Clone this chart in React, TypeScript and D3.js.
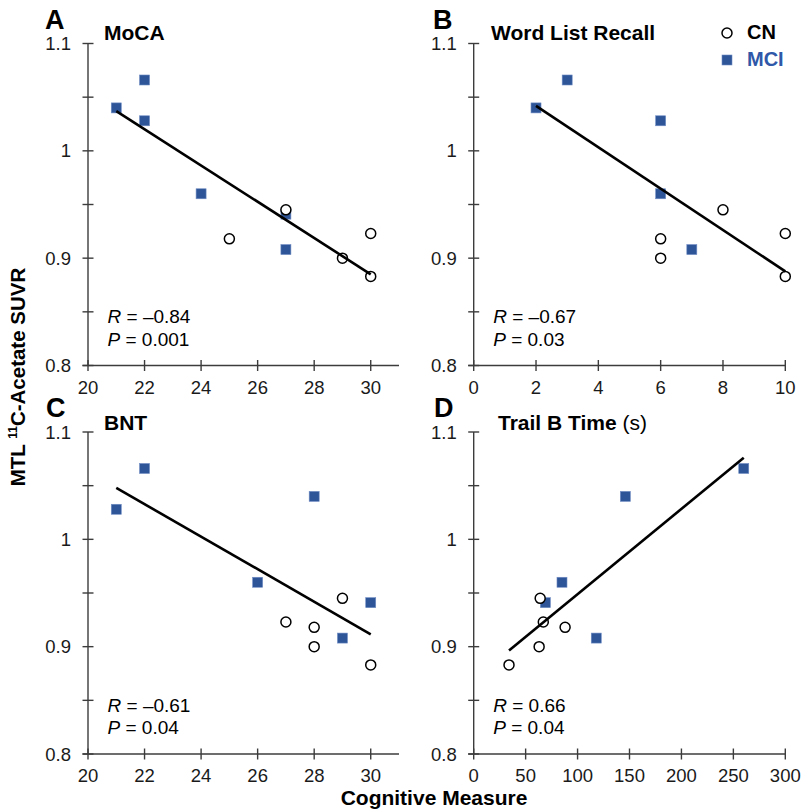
import React from "react";
import * as d3 from "d3";

// SUVR per subject (same subjects in every panel)
const suvrCN = [0.918, 0.945, 0.9, 0.923, 0.883];
const suvrMCI = [1.04, 1.066, 1.028, 0.96, 0.941, 0.908];

// Cognitive measures per subject (null = missing)
const mocaCN = [25, 27, 29, 30, 30];
const mocaMCI = [21, 22, 22, 24, 27, 27];
const wordCN = [6, 8, 6, 10, 10];
const wordMCI: (number | null)[] = [2, 3, 6, 6, null, 7];
const bntCN = [28, 29, 28, 27, 30];
const bntMCI = [28, 22, 21, 26, 30, 29];
const trailCN = [88, 64, 63, 67, 34];
const trailMCI: (number | null)[] = [146, 260, null, 85, 69, 118];

const panelLetters = ["A", "B", "C", "D"];
const panelTitles = ["MoCA", "Word List Recall", "BNT", "Trail B Time"];
const statR = ["\u20130.84", "\u20130.67", "\u20130.61", "0.66"];
const statP = ["0.001", "0.03", "0.04", "0.04"];

const xTicksMoca = [20, 22, 24, 26, 28, 30];
const xTicksWord = [0, 2, 4, 6, 8, 10];
const xTicksBnt = [20, 22, 24, 26, 28, 30];
const xTicksTrail = [0, 50, 100, 150, 200, 250, 300];
const yTicksMajor = [0.8, 0.9, 1.0, 1.1];
const yTickLabels = ["0.8", "0.9", "1", "1.1"];
const yTicksMinor = [0.85, 0.95, 1.05];

const FONT = "'Liberation Sans', Arial, Helvetica, sans-serif";
const AXIS = "#3c3c3c";
const BLUE = "#2E5597";
const BLUE_TXT = "#2F58A8";

type Panel = {
  letter: string;
  title: string;
  cnX: (number | null)[];
  mciX: (number | null)[];
  xDomain: [number, number];
  xRange: [number, number];
  xTicks: number[];
  yRange: [number, number];
  r: string;
  p: string;
  letterPos: [number, number];
  titlePos: [number, number];
};

const topY: [number, number] = [365.5, 43.5];
const botY: [number, number] = [754, 432];

const panels: Panel[] = [
  { letter: panelLetters[0], title: panelTitles[0], cnX: mocaCN, mciX: mocaMCI, xDomain: [20, 31], xRange: [88, 399], xTicks: xTicksMoca, yRange: topY, r: statR[0], p: statP[0], letterPos: [45, 29], titlePos: [104, 40] },
  { letter: panelLetters[1], title: panelTitles[1], cnX: wordCN, mciX: wordMCI, xDomain: [0, 10], xRange: [473.7, 785.3], xTicks: xTicksWord, yRange: topY, r: statR[1], p: statP[1], letterPos: [433, 29], titlePos: [491, 40] },
  { letter: panelLetters[2], title: panelTitles[2], cnX: bntCN, mciX: bntMCI, xDomain: [20, 31], xRange: [88, 399], xTicks: xTicksBnt, yRange: botY, r: statR[2], p: statP[2], letterPos: [46, 417], titlePos: [104, 430] },
  { letter: panelLetters[3], title: panelTitles[3], cnX: trailCN, mciX: trailMCI, xDomain: [0, 300], xRange: [473.7, 785.3], xTicks: xTicksTrail, yRange: botY, r: statR[3], p: statP[3], letterPos: [434, 417], titlePos: [498, 430] },
];

function PanelView({ pn }: { pn: Panel }) {
  const x = d3.scaleLinear().domain(pn.xDomain).range(pn.xRange);
  const y = d3.scaleLinear().domain([0.8, 1.1]).range(pn.yRange);
  const cn = pn.cnX
    .map((v, i) => (v == null ? null : { x: v, y: suvrCN[i] }))
    .filter((d): d is { x: number; y: number } => d !== null);
  const mci = pn.mciX
    .map((v, i) => (v == null ? null : { x: v, y: suvrMCI[i] }))
    .filter((d): d is { x: number; y: number } => d !== null);
  const all = [...cn, ...mci];
  const mx = d3.mean(all, (d) => d.x)!;
  const my = d3.mean(all, (d) => d.y)!;
  const sxy = d3.sum(all, (d) => (d.x - mx) * (d.y - my));
  const sxx = d3.sum(all, (d) => (d.x - mx) * (d.x - mx));
  const slope = sxy / sxx;
  const [x0, x1] = d3.extent(all, (d) => d.x) as [number, number];
  const fit = [x0, x1].map((xv) => ({ x: xv, y: my + slope * (xv - mx) }));
  const line = d3
    .line<{ x: number; y: number }>()
    .x((d) => x(d.x))
    .y((d) => y(d.y));
  const ax0 = pn.xRange[0];
  const ay0 = pn.yRange[0];
  const tk = 5.5;
  return (
    <g>
      {/* y axis */}
      <line x1={ax0} x2={ax0} y1={y(0.8)} y2={y(1.1)} stroke={AXIS} strokeWidth={1.4} />
      {[...yTicksMajor, ...yTicksMinor].map((t) => (
        <line key={"yt" + t} x1={ax0 - tk} x2={ax0 + tk} y1={y(t)} y2={y(t)} stroke={AXIS} strokeWidth={1.4} />
      ))}
      {yTicksMajor.map((t, i) => (
        <text key={"yl" + t} x={ax0 - 17} y={y(t) + 6.5} textAnchor="end" fontSize={18.5} fill="#1a1a1a">
          {yTickLabels[i]}
        </text>
      ))}
      {/* x axis */}
      <line x1={ax0 - tk} x2={pn.xRange[1]} y1={ay0} y2={ay0} stroke={AXIS} strokeWidth={1.4} />
      {pn.xTicks.map((t) => (
        <line key={"xt" + t} x1={x(t)} x2={x(t)} y1={ay0 - tk} y2={ay0 + tk} stroke={AXIS} strokeWidth={1.4} />
      ))}
      {pn.xTicks.map((t) => (
        <text key={"xl" + t} x={x(t)} y={ay0 + 28} textAnchor="middle" fontSize={18.5} fill="#1a1a1a">
          {t}
        </text>
      ))}
      {/* markers */}
      {mci.map((d, i) => (
        <rect key={"m" + i} x={x(d.x) - 5} y={y(d.y) - 5} width={10} height={10} fill={BLUE} stroke="#6f8cc4" strokeWidth={0.6} />
      ))}
      {cn.map((d, i) => (
        <circle key={"c" + i} cx={x(d.x)} cy={y(d.y)} r={5} fill="#fff" stroke="#000" strokeWidth={1.5} />
      ))}
      <path d={line(fit)!} stroke="#000" strokeWidth={2.6} fill="none" />
      {/* labels */}
      <text x={pn.letterPos[0]} y={pn.letterPos[1]} fontSize={27} fontWeight="bold">
        {pn.letter}
      </text>
      <text x={pn.titlePos[0]} y={pn.titlePos[1]} fontSize={21} fontWeight="bold">
        {pn.title}
        {pn.letter === "D" ? <tspan fontWeight="normal"> (s)</tspan> : null}
      </text>
      <text x={ax0 + 19.5} y={ay0 - 42.5} fontSize={19}>
        <tspan fontStyle="italic">R</tspan> = {pn.r}
      </text>
      <text x={ax0 + 19.5} y={ay0 - 20} fontSize={19}>
        <tspan fontStyle="italic">P</tspan> = {pn.p}
      </text>
    </g>
  );
}

export default function App() {
  return (
    <svg
      width={806}
      height={812}
      style={{ position: "absolute", left: 0, top: 0, background: "#fff" }}
      fontFamily={FONT}
    >
      <rect width={806} height={812} fill="#fff" />
      {panels.map((pn) => (
        <PanelView key={pn.letter} pn={pn} />
      ))}
      {/* legend */}
      <circle cx={727} cy={33} r={5} fill="#fff" stroke="#000" strokeWidth={1.5} />
      <text x={747} y={39} fontSize={20} fontWeight="bold">CN</text>
      <rect x={722} y={55} width={10} height={10} fill={BLUE} stroke="#6f8cc4" strokeWidth={0.6} />
      <text x={747} y={66} fontSize={20} fontWeight="bold" fill={BLUE_TXT}>MCI</text>
      {/* axis titles */}
      <text transform="translate(25,377) rotate(-90)" textAnchor="middle" fontSize={20.5} fontWeight="bold">
        MTL <tspan fontSize={12} dy={-8}>11</tspan>
        <tspan dy={8}>C-Acetate SUVR</tspan>
      </text>
      <text x={434} y={805} textAnchor="middle" fontSize={21} fontWeight="bold">
        Cognitive Measure
      </text>
    </svg>
  );
}
